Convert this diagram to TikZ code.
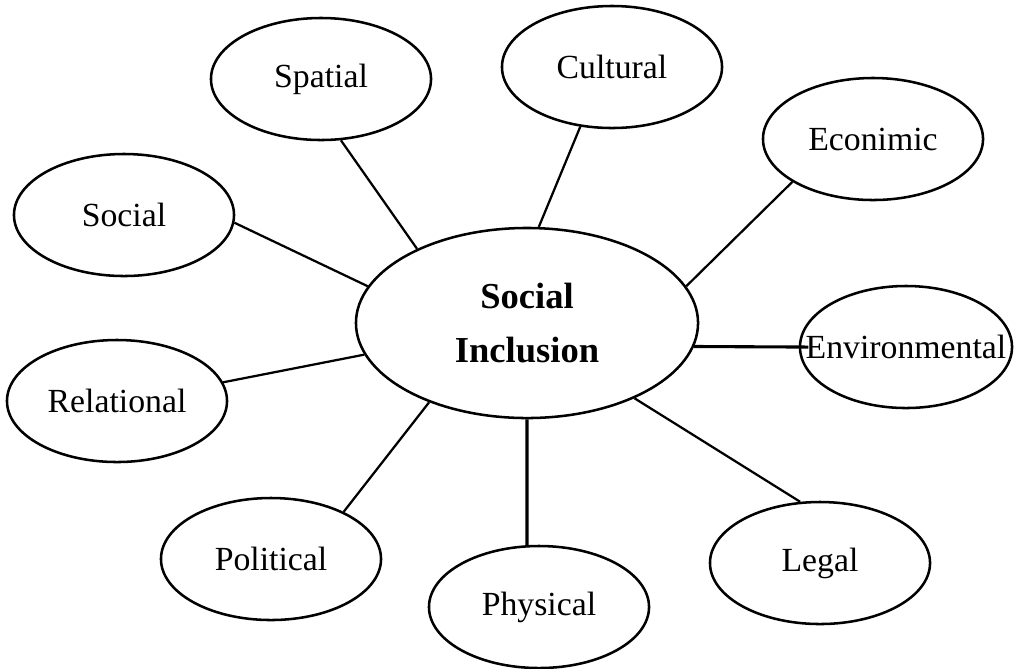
\documentclass[tikz,border=0pt]{standalone}
\usepackage{fontspec}
\setmainfont{Liberation Serif}
\usetikzlibrary{shapes.geometric}

\begin{document}
\begin{tikzpicture}[x=0.0125cm,y=-0.0125cm]
\tikzset{
  hub/.style={ellipse,draw=black,line width=0.9pt,text=black,text centered,align=center,font=\fontsize{13}{19}\selectfont\bfseries,inner sep=0pt,minimum width=4.275cm,minimum height=2.375cm},
  aspect/.style={ellipse,draw=black,line width=0.9pt,text=black,text centered,font=\fontsize{12}{14}\selectfont,inner sep=0pt,minimum width=2.75cm,minimum height=1.525cm},
  link/.style={draw=black,line width=0.8pt},
  heavy/.style={link,line width=1.1pt},
}
\useasboundingbox (0,0) rectangle (1017,668);
\node[hub] (inclusion) at (527,323) {Social\\Inclusion};
\node[aspect] (spatial) at (321,79) {Spatial};
\node[aspect] (cultural) at (612,67) {Cultural};
\node[aspect] (economic) at (873,139) {Econimic};
\node[aspect] (social) at (124,215) {Social};
\node[aspect,minimum width=2.65cm] (environmental) at (906,347) {\makebox[0pt]{Environmental}};
\node[aspect] (relational) at (117,401) {Relational};
\node[aspect] (political) at (271,559) {Political};
\node[aspect] (physical) at (539,607) {Physical};
\node[aspect] (legal) at (820,563) {Legal};
%
\path[link] (inclusion.146) -- (spatial.288);
\path[link] (inclusion.83) -- (cultural.242);
\path[link] (inclusion.13) -- (economic.208);
\path[link] (inclusion.167) -- (social.-4);
\path[heavy,shorten >=-0.12cm] (inclusion.-8) -- (environmental.west);
\path[link] (inclusion.191) -- (relational.10);
\path[link] (inclusion.219) -- (political.33);
\path[heavy] (inclusion.270) -- (physical.101);
\path[link] (inclusion.-35) -- (legal.108);
\end{tikzpicture}
\end{document}
